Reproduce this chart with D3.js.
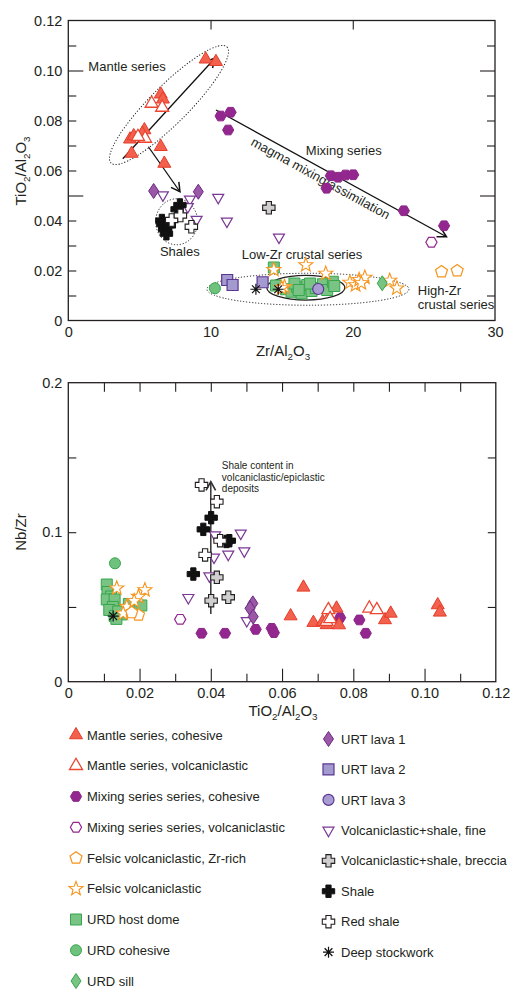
<!DOCTYPE html>
<html><head><meta charset="utf-8">
<script src="https://cdn.jsdelivr.net/npm/d3@7"></script>
<style>
html,body{margin:0;padding:0;background:#fff;}
svg{display:block;font-family:"Liberation Sans",Arial,sans-serif;}
</style></head>
<body><svg id="c" width="512" height="989"></svg>
<script>
// ---------- DATA: top plot (Zr/Al2O3 , TiO2/Al2O3) ----------
const mantleCohTop = [[9.66,0.1045],[10.38,0.1035],[6.5,0.0905],[6.65,0.0885],[4.34,0.0725],[4.6,0.0738],[5.35,0.0762],[5.2,0.0748],[4.45,0.0668],[6.5,0.0695],[6.75,0.0628]];
const mantleVolTop = [[5.86,0.0868],[6.6,0.0852],[5.4,0.0728],[4.9,0.0735]];
const mixCohTop = [[10.71,0.0818],[11.41,0.0833],[11.24,0.0762],[18.46,0.0579],[18.97,0.0573],[19.49,0.0582],[20.03,0.0583],[18.16,0.0529],[23.59,0.0439],[26.42,0.0379]];
const mixVolTop = [[25.53,0.0313]];
const felsicZrTop = [[26.24,0.0195],[27.34,0.0199]];
const felsicTop = [[14.45,0.0203],[16.7,0.0222],[18.1,0.0188],[15.2,0.0135],[19.8,0.0152],[20.2,0.0142],[20.45,0.0163],[20.85,0.0172],[20.6,0.015],[22.6,0.016],[23.1,0.0129],[15.0,0.013]];
const urdHostTop = [[14.45,0.0212],[14.6,0.014],[15.3,0.0125],[15.7,0.0115],[16.1,0.0135],[16.4,0.0108],[16.8,0.0142],[17.1,0.0118],[17.4,0.013],[17.9,0.0145],[18.2,0.0122],[18.6,0.0155],[18.7,0.0138],[15.9,0.0148],[17.0,0.0148],[16.2,0.0122]];
const urdCohTop = [[10.31,0.0129]];
const urdSillTop = [[22.07,0.0149]];
const urt1Top = [[6.0,0.0518],[9.14,0.0515]];
const urt2Top = [[11.17,0.0162],[11.55,0.0142],[13.66,0.0153]];
const urt3Top = [[17.57,0.0126]];
const fineTop = [[6.65,0.0502],[8.55,0.0485],[10.54,0.0492],[8.4,0.0455],[9.02,0.0404],[11.15,0.0397],[14.81,0.0333]];
const brecciaTop = [[14.1,0.0451]];
const shaleTop = [[7.85,0.0462],[7.65,0.0445],[6.58,0.0400],[6.65,0.0385],[6.78,0.0365],[6.9,0.0347],[7.1,0.038]];
const redShaleTop = [[7.27,0.0402],[7.88,0.042],[8.65,0.0375]];
const deepTop = [[13.19,0.0125],[14.76,0.0125]];

// ---------- DATA: bottom plot (TiO2/Al2O3 , Nb/Zr) ----------
const mantleCohBot = [[0.066,0.0631],[0.0624,0.0439],[0.0688,0.0395],[0.0714,0.0401],[0.0753,0.0491],[0.076,0.0379],[0.0889,0.0413],[0.0905,0.0457],[0.1037,0.0513],[0.1043,0.0464],[0.0725,0.038]];
const mantleVolBot = [[0.073,0.048],[0.0725,0.0401],[0.0845,0.0491],[0.0866,0.048],[0.0735,0.042]];
const mixCohBot = [[0.0374,0.0324],[0.044,0.0324],[0.0526,0.035],[0.0571,0.0357],[0.0577,0.0328],[0.0763,0.0428],[0.0817,0.0413],[0.0835,0.0324]];
const mixVolBot = [[0.0314,0.0417]];
const felsicZrBot = [[0.0197,0.0446],[0.0178,0.0462]];
const felsicBot = [[0.0136,0.0625],[0.0215,0.0613],[0.0197,0.0569],[0.0164,0.0502],[0.0154,0.0457],[0.0185,0.054]];
const urdHostBot = [[0.0108,0.065],[0.011,0.060],[0.012,0.057],[0.0108,0.055],[0.013,0.055],[0.0125,0.050],[0.0115,0.048],[0.013,0.044],[0.015,0.045],[0.017,0.052],[0.016,0.048],[0.0205,0.051],[0.014,0.047],[0.0135,0.042]];
const urdCohBot = [[0.0131,0.0792]];
const urt1Bot = [[0.0518,0.0524],[0.051,0.0491],[0.0519,0.0435]];
const fineBot = [[0.0412,0.0981],[0.0484,0.0993],[0.0449,0.0852],[0.0494,0.0874],[0.0409,0.0832],[0.0396,0.0707],[0.0337,0.0562],[0.0501,0.0408]];
const brecciaBot = [[0.0417,0.0698],[0.0401,0.0542],[0.0449,0.0565]];
const shaleBot = [[0.0401,0.1097],[0.0379,0.1019],[0.0452,0.0943],[0.0444,0.0938],[0.0351,0.072]];
const redShaleBot = [[0.0374,0.1316],[0.0417,0.1204],[0.0426,0.0943],[0.0384,0.0848]];
const deepBot = [[0.0126,0.0439]];

// ---------- tick labels / legend ----------
const topYTicks = [0,0.02,0.04,0.06,0.08,0.10,0.12];
const topYLabels = ["0","0.02","0.04","0.06","0.08","0.10","0.12"];
const topXTicks = [0,10,20,30];
const botYTicks = [0,0.1,0.2];
const botYLabels = ["0","0.1","0.2"];
const botXTicks = [0,0.02,0.04,0.06,0.08,0.10,0.12];
const botXLabels = ["0","0.02","0.04","0.06","0.08","0.10","0.12"];
const legendLeft = ["Mantle series, cohesive","Mantle series, volcaniclastic","Mixing series series, cohesive","Mixing series series, volcaniclastic","Felsic volcaniclastic, Zr-rich","Felsic volcaniclastic","URD host dome","URD cohesive","URD sill"];
const legendRight = ["URT lava 1","URT lava 2","URT lava 3","Volcaniclastic+shale, fine","Volcaniclastic+shale, breccia","Shale","Red shale","Deep stockwork"];

// ---------- styles ----------
const ST = {
  mantleC:{shape:"triUp",fill:"#f2604e",stroke:"#e63c28",sw:1},
  mantleV:{shape:"triUp",fill:"#fff",stroke:"#ec4530",sw:1.3},
  mixC:{shape:"hex",fill:"#93278f",stroke:"#8b2787",sw:1},
  mixV:{shape:"hex",fill:"#fff",stroke:"#93278f",sw:1.2},
  felsicZr:{shape:"pent",fill:"#fff",stroke:"#f7941d",sw:1.2},
  felsic:{shape:"star",fill:"#fff",stroke:"#f7941d",sw:1.1},
  urdHost:{shape:"square",fill:"#79c384",stroke:"#35a64b",sw:1},
  urdCoh:{shape:"circle",fill:"#6fc27d",stroke:"#35a64b",sw:1},
  urdSill:{shape:"diamond",fill:"#79c384",stroke:"#35a64b",sw:1},
  urt1:{shape:"diamond",fill:"#9b58a6",stroke:"#6a2b83",sw:1},
  urt2:{shape:"square",fill:"#a39bcf",stroke:"#5c3691",sw:1.2},
  urt3:{shape:"circle",fill:"#a89dd2",stroke:"#5c3691",sw:1.2},
  fine:{shape:"triDown",fill:"#fff",stroke:"#7a3995",sw:1.2},
  breccia:{shape:"cross",fill:"#cfcfcf",stroke:"#231f20",sw:1.1},
  shale:{shape:"cross",fill:"#111",stroke:"#111",sw:1},
  redShale:{shape:"cross",fill:"#fff",stroke:"#231f20",sw:1.1},
  deep:{shape:"ast",fill:"none",stroke:"#111",sw:1.2}
};
const legendLeftKeys = ["mantleC","mantleV","mixC","mixV","felsicZr","felsic","urdHost","urdCoh","urdSill"];
const legendRightKeys = ["urt1","urt2","urt3","fine","breccia","shale","redShale","deep"];

function symPath(shape){
  const p = [];
  if(shape==="triUp"){const s=13,h=s*0.866;return `M0,${-2*h/3}L${s/2},${h/3}L${-s/2},${h/3}Z`;}
  if(shape==="triDown"){const s=11,h=s*0.866;return `M0,${2*h/3}L${s/2},${-h/3}L${-s/2},${-h/3}Z`;}
  if(shape==="hex"){const r=5.6;for(let i=0;i<6;i++){const a=i*Math.PI/3;p.push([r*Math.cos(a),r*Math.sin(a)]);}return "M"+p.join("L")+"Z";}
  if(shape==="pent"){const r=6.3;for(let i=0;i<5;i++){const a=-Math.PI/2+i*2*Math.PI/5;p.push([r*Math.cos(a),r*Math.sin(a)]);}return "M"+p.join("L")+"Z";}
  if(shape==="star"){for(let i=0;i<10;i++){const r=i%2?3.1:7.4;const a=-Math.PI/2+i*Math.PI/5;p.push([r*Math.cos(a),r*Math.sin(a)]);}return "M"+p.join("L")+"Z";}
  if(shape==="square"){return "M-5.5,-5.5H5.5V5.5H-5.5Z";}
  if(shape==="circle"){const r=5.5;return `M${r},0A${r},${r} 0 1 1 ${-r},0A${r},${r} 0 1 1 ${r},0Z`;}
  if(shape==="diamond"){return "M0,-7.5L5,0L0,7.5L-5,0Z";}
  if(shape==="cross"){const a=2.6,b=6.2;return `M${-a},${-b}H${a}V${-a}H${b}V${a}H${a}V${b}H${-a}V${a}H${-b}V${-a}H${-a}Z`;}
  if(shape==="ast"){const r=5.5;let s="";for(let i=0;i<4;i++){const a=i*Math.PI/4;s+=`M${-r*Math.cos(a)},${-r*Math.sin(a)}L${r*Math.cos(a)},${r*Math.sin(a)}`;}return s;}
}

const svg = d3.select("#c");
svg.append("rect").attr("width",512).attr("height",989).attr("fill","#fff");
const TXT = "#231f20";

// ---------- scales ----------
const xT = d3.scaleLinear().domain([0,30]).range([68.3,495]);
const yT = d3.scaleLinear().domain([0,0.12]).range([320.5,20.5]);
const xB = d3.scaleLinear().domain([0,0.12]).range([68.3,495.8]);
const yB = d3.scaleLinear().domain([0,0.2]).range([681.7,382.7]);

function frame(x,y){
  svg.append("rect").attr("x",x.range()[0]).attr("y",y.range()[1])
    .attr("width",x.range()[1]-x.range()[0]).attr("height",y.range()[0]-y.range()[1])
    .attr("fill","none").attr("stroke",TXT).attr("stroke-width",1.3);
}
function ticks(axisFn,scale,vals,size,tx,ty){
  const g = svg.append("g").attr("transform",`translate(${tx},${ty})`)
    .call(axisFn(scale).tickValues(vals).tickSize(size).tickFormat(""));
  g.select(".domain").remove();
  g.selectAll("text").remove();
  g.selectAll("line").attr("stroke",TXT).attr("stroke-width",1.1);
}
function labels(axisFn,scale,vals,labs,tx,ty,pad){
  const g = svg.append("g").attr("transform",`translate(${tx},${ty})`)
    .call(axisFn(scale).tickValues(vals).tickSize(0).tickPadding(pad).tickFormat((d,i)=>labs[i]));
  g.select(".domain").remove();
  g.selectAll("line").remove();
  g.selectAll("text").attr("font-size",14.5).attr("fill",TXT).attr("font-family","Liberation Sans, Arial, sans-serif");
}

// ---------- top axes ----------
const yMinorT = d3.range(1,12).map(i=>i/100).filter(v=>Math.abs(v-0.05)>1e-6 && Math.abs(v-0.10)>1e-6);
ticks(d3.axisLeft,yT,yMinorT,-8,68.3,0);
ticks(d3.axisLeft,yT,[0.05,0.10],-15,68.3,0);
ticks(d3.axisRight,yT,yMinorT,-8,495,0);
ticks(d3.axisRight,yT,[0.05,0.10],-15,495,0);
ticks(d3.axisTop,xT,[10,20],-9,0,20.5);
labels(d3.axisLeft,yT,topYTicks,topYLabels,68.3,0,6);
labels(d3.axisBottom,xT,topXTicks,topXTicks.map(String),0,320.5,6);
frame(xT,yT);

// ---------- bottom axes ----------
const xMinorB = d3.range(1,12).map(i=>i/100);
ticks(d3.axisTop,xB,xMinorB,-9,0,382.7);
ticks(d3.axisBottom,xB,xMinorB.filter((v,i)=>i%2===1),-13,0,681.7);
ticks(d3.axisBottom,xB,xMinorB.filter((v,i)=>i%2===0),-8,0,681.7);
ticks(d3.axisLeft,yB,[0.05,0.1,0.15],-8,68.3,0);
ticks(d3.axisRight,yB,[0.05,0.1,0.15],-8,495.8,0);
labels(d3.axisLeft,yB,botYTicks,botYLabels,68.3,0,6);
labels(d3.axisBottom,xB,botXTicks,botXLabels,0,681.7,6);
frame(xB,yB);

// ---------- axis titles ----------
function chemTitle(parts,x,y,rot,size){
  const t = svg.append("text").attr("transform",`translate(${x},${y}) rotate(${rot})`)
    .attr("text-anchor","middle").attr("font-size",size).attr("fill",TXT);
  let shifted = false;
  parts.forEach(p=>{
    const ts = t.append("tspan").text(p.t);
    if(p.sub){ ts.attr("font-size",size*0.65).attr("dy",size*0.25); shifted = true; }
    else if(shifted){ ts.attr("dy",-size*0.25); shifted = false; }
  });
}
const tiAl = [{t:"TiO"},{t:"2",sub:1},{t:"/Al"},{t:"2",sub:1},{t:"O"},{t:"3",sub:1}];
chemTitle(tiAl,26,171,-90,15);
chemTitle([{t:"Zr/Al"},{t:"2",sub:1},{t:"O"},{t:"3",sub:1}],283,356,0,15);
chemTitle([{t:"Nb/Zr"}],26,532,-90,15);
chemTitle(tiAl,283,716,0,15);

// ---------- annotations top ----------
const ann = svg.append("g");
function ell(cx,cy,rx,ry,rot,dash){
  ann.append("ellipse").attr("transform",`translate(${cx},${cy}) rotate(${rot})`)
    .attr("rx",rx).attr("ry",ry).attr("fill","none").attr("stroke",TXT)
    .attr("stroke-width",dash?1:1.3).attr("stroke-dasharray",dash?"1.2,1.8":null);
}
function arrow(x1,y1,x2,y2,col,w){
  ann.append("line").attr("x1",x1).attr("y1",y1).attr("x2",x2).attr("y2",y2).attr("stroke",col).attr("stroke-width",w);
  const a = Math.atan2(y2-y1,x2-x1), L=10, h=0.5;
  ann.append("path").attr("d",`M${x2-L*Math.cos(a-h)},${y2-L*Math.sin(a-h)}L${x2},${y2}L${x2-L*Math.cos(a+h)},${y2-L*Math.sin(a+h)}`)
    .attr("fill","none").attr("stroke",col).attr("stroke-width",w+0.2);
}
function label(txt,x,y,size,anchor){
  ann.append("text").attr("x",x).attr("y",y).attr("font-size",size).attr("fill",TXT)
    .attr("text-anchor",anchor||"start").text(txt);
}
ell(xT(7.08),yT(0.0862),82,19,-45,true);
ell(xT(7.62),yT(0.0395),21,23,0,true);
ell(xT(16.85),yT(0.0125),101,16,0,true);
ell(xT(16.7),yT(0.0131),39,12.3,0,false);
arrow(xT(3.83),yT(0.0647),xT(10.31),yT(0.1049),"#111",1.3);
arrow(xT(5.63),yT(0.0695),xT(7.85),yT(0.0515),"#111",1.3);
const mx1=xT(10.38),my1=yT(0.0842),mx2=xT(26.59),my2=yT(0.0335);
arrow(mx1,my1,mx2,my2,"#111",1.3);
label("Mantle series",xT(1.41),yT(0.0998),13);
label("Shales",xT(7.84),yT(0.0258),13,"middle");
label("Mixing series",xT(16.7),yT(0.0661),13);
label("Low-Zr crustal series",xT(12.19),yT(0.0246),13);
label("High-Zr",xT(24.57),yT(0.0101),13);
label("crustal series",xT(24.57),yT(0.0045),13);
const ang = Math.atan2(my2-my1,mx2-mx1)*180/Math.PI;
ann.append("text").attr("transform",`translate(${xT(17.59)},${yT(0.0553)}) rotate(${ang})`)
  .attr("text-anchor","middle").attr("font-size",13).attr("fill",TXT).text("magma mixing/assimilation");

// ---------- annotation bottom ----------
arrow(xB(0.04),yB(0.0453),xB(0.04),yB(0.1338),"#333",1.5);
label("Shale content in",xB(0.0431),yB(0.1420),10);
label("volcaniclastic/epiclastic",xB(0.0431),yB(0.1343),10);
label("deposits",xB(0.0431),yB(0.1266),10);

// ---------- points ----------
function pts(data,x,y,key){
  const s = ST[key];
  svg.append("g").selectAll("path").data(data).join("path")
    .attr("d",symPath(s.shape))
    .attr("transform",d=>`translate(${x(d[0])},${y(d[1])})`)
    .attr("fill",s.fill).attr("stroke",s.stroke).attr("stroke-width",s.sw).attr("stroke-linejoin","miter");
}
const topSeries = [[urdHostTop,"urdHost"],[felsicTop,"felsic"],[felsicZrTop,"felsicZr"],[urdCohTop,"urdCoh"],[urdSillTop,"urdSill"],[urt2Top,"urt2"],[urt3Top,"urt3"],[deepTop,"deep"],[fineTop,"fine"],[urt1Top,"urt1"],[shaleTop,"shale"],[redShaleTop,"redShale"],[brecciaTop,"breccia"],[mixCohTop,"mixC"],[mixVolTop,"mixV"],[mantleCohTop,"mantleC"],[mantleVolTop,"mantleV"]];
topSeries.forEach(([d,k])=>pts(d,xT,yT,k));
const botSeries = [[urdHostBot,"urdHost"],[urdCohBot,"urdCoh"],[felsicBot,"felsic"],[felsicZrBot,"felsicZr"],[deepBot,"deep"],[fineBot,"fine"],[mixCohBot,"mixC"],[mixVolBot,"mixV"],[urt1Bot,"urt1"],[mantleCohBot,"mantleC"],[mantleVolBot,"mantleV"],[shaleBot,"shale"],[redShaleBot,"redShale"],[brecciaBot,"breccia"]];
botSeries.forEach(([d,k])=>pts(d,xB,yB,k));

// ---------- legend ----------
function legendCol(labs,keys,sx,tx,y0,dy){
  labs.forEach((l,i)=>{
    const s = ST[keys[i]], y = y0+i*dy;
    svg.append("path").attr("d",symPath(s.shape)).attr("transform",`translate(${sx},${y})`)
      .attr("fill",s.fill).attr("stroke",s.stroke).attr("stroke-width",s.sw);
    svg.append("text").attr("x",tx).attr("y",y+4.6).attr("font-size",13).attr("fill",TXT).text(l);
  });
}
legendCol(legendLeft,legendLeftKeys,76,87,735,30.75);
legendCol(legendRight,legendRightKeys,328.5,341,739,30.45);
</script></body></html>
